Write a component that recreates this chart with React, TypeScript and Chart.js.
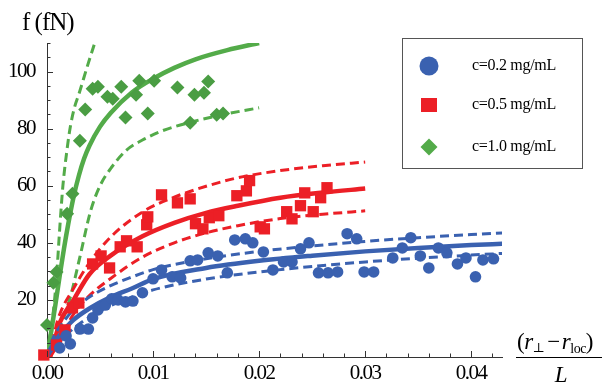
import React, { useEffect, useRef } from "react";
import { Chart, registerables } from "chart.js";
Chart.register(...registerables);

// ---- measured data (c = 0.2 mg/mL) ----
const blueX = [0.0012,0.0022,0.0018,0.0031,0.0039,0.0043,0.0048,0.0055,0.0061,0.0067,0.0074,0.0081,0.009,0.01,0.0108,0.0118,0.0126,0.0135,0.0142,0.0152,0.0161,0.017,0.0177,0.0187,0.0194,0.0204,0.0213,0.0223,0.0231,0.0239,0.0247,0.0256,0.0265,0.0274,0.0283,0.0292,0.0299,0.0308,0.0326,0.0335,0.0343,0.0352,0.036,0.0369,0.0377,0.0387,0.0395,0.0404,0.0411,0.0421];
const blueY = [3.2,4.6,7.4,9.8,9.8,13.7,16.5,18.2,20.4,20,19.3,19.6,22.5,27.4,30.5,28.1,27.7,33.7,34,36.5,35.4,29.5,41,41.4,40,36.8,30.5,33.3,33.3,37.9,40,29.5,29.5,29.8,43.2,41.4,29.8,29.8,34.7,38.2,41.8,35.4,31.2,38.2,36.5,32.6,34.7,28.1,34,34.4];

// ---- measured data (c = 0.5 mg/mL) ----
const redX = [-0.0003,0.0009,0.0017,0.0024,0.003,0.0043,0.0051,0.0059,0.0069,0.0075,0.0085,0.0094,0.0095,0.0108,0.0123,0.0135,0.014,0.0147,0.0153,0.0162,0.0179,0.0188,0.0191,0.0201,0.0205,0.0226,0.0231,0.0239,0.0243,0.0251,0.0258,0.0264];
const redY = [0.7,4.2,9.5,17.2,18.9,32.6,35.4,31.2,38.6,40.7,38.6,46.3,49.1,56.8,54,55.4,46.7,44.9,48.8,49.5,56.5,58.2,61.8,45.6,44.9,50.9,48.4,53,57.5,50.9,55.8,59.3];

// ---- measured data (c = 1.0 mg/mL) ----
const greenX = [0,0.0006,0.0009,0.0019,0.0024,0.0031,0.0036,0.0043,0.0048,0.0057,0.0062,0.007,0.0074,0.0084,0.0087,0.0095,0.0101,0.0123,0.0135,0.0139,0.0148,0.0152,0.016,0.0166];
const greenY = [11.2,26,29.8,50.2,57.2,75.8,86.7,94,94.7,91.2,90.5,94.7,83.9,91.9,96.8,85.3,96.8,94.4,82.1,91.9,92.6,96.5,84.9,85.3];

// ---- fit curves ----
const blueFitX = [0,0.0005,0.0015,0.0025,0.004,0.006,0.008,0.01,0.015,0.02,0.025,0.03,0.035,0.04,0.043];
const blueFit = [0,4,9,13,17,21,24,27.3,31.2,33.7,35.5,37,38.2,39.2,39.7];
const blueFitHi = [0,6,12,16.5,21,25,28,30.6,34.4,37,38.9,40.5,41.8,42.9,43.5];
const blueFitLo = [0,2.5,6.5,10,14,18,21,23.5,27.3,29.8,31.7,33.3,34.6,35.7,36.3];

const redFitX = [0.0003,0.0008,0.0012,0.0025,0.004,0.006,0.009,0.012,0.015,0.018,0.022,0.026,0.03];
const redFit = [0,7,12,20,29,35.5,42.3,47,50.5,53,55.8,57.6,59];
const redFitHi = [0,10,15,24,33,42,50.8,56,59.8,62.8,65.3,67,68.3];
const redFitLo = [0,3,6,15,21.5,27.5,35,40,43.5,46,48.5,50,51.2];

const greenFitX = [0,0.0004,0.0008,0.0012,0.0016,0.002,0.0025,0.003,0.0035,0.004,0.005,0.006,0.008,0.01,0.012,0.014,0.017,0.02];
const greenFit = [0,9,18.5,28.5,38,46.5,56,63.5,69.5,74,80.7,85.5,92.7,97.5,101.3,104.3,107.5,110];
const greenHiX = [0,0.0003,0.0006,0.0009,0.0012,0.0015,0.0019,0.0022,0.0026,0.003,0.0038,0.0045];
const greenFitHi = [0,8,16,28,45,60,73,80.7,87.5,92,101.8,110];
const greenLoX = [0,0.0008,0.0015,0.0022,0.0031,0.0041,0.005,0.006,0.0075,0.009,0.0107,0.0138,0.017,0.02];
const greenFitLo = [0,6,13,21,35,51,60,66,72.5,76,79,82.5,85.2,87.3];

// ---- axes / labels ----
const X_TICKS = [0, 0.01, 0.02, 0.03, 0.04];
const Y_TICKS = [20, 40, 60, 80, 100];
const LEGEND_LABELS = ["c=0.2 mg/mL", "c=0.5 mg/mL", "c=1.0 mg/mL"];
const Y_TITLE = "f (fN)";

const BLUE = "#3a61b0";
const RED = "#ec1f26";
const GREEN_PT = "#4a9d43";
const GREEN_LN = "#53ab49";
const AXIS = "#333333";
const SERIF = '"Liberation Serif", "DejaVu Serif", serif';

function pts(xs: number[], ys: number[]) {
  return xs.map((x, i) => ({ x, y: ys[i] }));
}

function lineDs(xs: number[], ys: number[], color: string, dashed: boolean) {
  return {
    data: pts(xs, ys),
    showLine: true,
    borderColor: color,
    backgroundColor: color,
    borderWidth: dashed ? 3 : 4.5,
    borderDash: dashed ? [9, 5] : [],
    pointRadius: 0,
    cubicInterpolationMode: "monotone" as const,
    fill: false,
    order: 2,
  };
}

function pointDs(xs: number[], ys: number[], color: string, style: string, r: number) {
  return {
    data: pts(xs, ys),
    showLine: false,
    pointStyle: style,
    pointRadius: r,
    pointBackgroundColor: color,
    pointBorderColor: color,
    pointBorderWidth: 0,
    clip: false as const,
    order: 1,
  };
}

const decorPlugin = {
  id: "mmaDecor",
  beforeDraw(chart: any) {
    chart.ctx.letterSpacing = "-1.5px";
  },
  afterDraw(chart: any) {
    const { ctx, chartArea: ca, scales } = chart;
    const xs = scales.x;
    const ys = scales.y;
    ctx.save();
    ctx.letterSpacing = "0px";
    ctx.setLineDash([]);
    ctx.strokeStyle = AXIS;
    ctx.lineWidth = 1;
    ctx.beginPath();
    // x ticks (inward), minor every 0.002
    for (let i = 0; i * 0.002 <= xs.max + 1e-9; i++) {
      const v = i * 0.002;
      const px = Math.round(xs.getPixelForValue(v)) + 0.5;
      const len = i % 5 === 0 ? 6 : 3.5;
      ctx.moveTo(px, ca.bottom);
      ctx.lineTo(px, ca.bottom - len);
    }
    // y ticks (inward), minor every 5
    for (let i = 1; i * 5 <= ys.max; i++) {
      const v = i * 5;
      const py = Math.round(ys.getPixelForValue(v)) + 0.5;
      const len = i % 4 === 0 ? 6 : 3.5;
      ctx.moveTo(ca.left, py);
      ctx.lineTo(ca.left + len, py);
    }
    ctx.stroke();

    // y title
    ctx.fillStyle = "#000";
    ctx.letterSpacing = "-1px";
    ctx.font = `25px ${SERIF}`;
    ctx.textBaseline = "alphabetic";
    ctx.textAlign = "left";
    ctx.fillText(Y_TITLE, 22, 30);

    // x title: (r_perp - r_loc) / L
    ctx.letterSpacing = "-0.5px";
    let x = 517;
    const base = 349;
    const put = (t: string, font: string, dy = 0) => {
      ctx.font = font;
      ctx.fillText(t, x, base + dy);
      x += ctx.measureText(t).width;
    };
    put("(", `23px ${SERIF}`);
    put("r", `italic 23px ${SERIF}`);
    put("\u22A5", `13px ${SERIF}`, 3);
    x += 3;
    put("\u2212", `23px ${SERIF}`);
    x += 2;
    put("r", `italic 23px ${SERIF}`);
    put("loc", `14px ${SERIF}`, 4);
    put(")", `23px ${SERIF}`);
    ctx.beginPath();
    ctx.lineWidth = 1.2;
    ctx.strokeStyle = "#000";
    ctx.moveTo(516, 357.5);
    ctx.lineTo(602, 357.5);
    ctx.stroke();
    ctx.font = `italic 23px ${SERIF}`;
    ctx.textAlign = "center";
    ctx.fillText("L", 561, 382);

    // legend
    ctx.textAlign = "left";
    ctx.lineWidth = 1;
    ctx.strokeStyle = "#555";
    ctx.strokeRect(402.5, 38.5, 180, 130);
    const cx = 429;
    const rows = [66, 105, 147];
    ctx.fillStyle = BLUE;
    ctx.beginPath();
    ctx.arc(cx, rows[0], 9.5, 0, Math.PI * 2);
    ctx.fill();
    ctx.fillStyle = RED;
    ctx.fillRect(cx - 8, rows[1] - 7, 16, 14);
    ctx.fillStyle = GREEN_LN;
    ctx.beginPath();
    ctx.moveTo(cx - 8.5, rows[2]);
    ctx.lineTo(cx, rows[2] - 8.5);
    ctx.lineTo(cx + 8.5, rows[2]);
    ctx.lineTo(cx, rows[2] + 8.5);
    ctx.closePath();
    ctx.fill();
    ctx.fillStyle = "#000";
    ctx.font = `16px ${SERIF}`;
    ctx.letterSpacing = "-0.3px";
    LEGEND_LABELS.forEach((t, i) => {
      ctx.fillText(t, 472, rows[i] + 4);
    });
    ctx.restore();
  },
};

export default function App() {
  const ref = useRef<HTMLCanvasElement | null>(null);
  useEffect(() => {
    document.body.style.margin = "0";
    if (!ref.current) return;
    const chart = new Chart(ref.current, {
      type: "scatter",
      data: {
        datasets: [
          pointDs(blueX, blueY, BLUE, "circle", 5.8),
          pointDs(redX, redY, RED, "rect", 8),
          pointDs(greenX, greenY, GREEN_PT, "rectRot", 7),
          lineDs(blueFitX, blueFit, BLUE, false),
          lineDs(blueFitX, blueFitHi, BLUE, true),
          lineDs(blueFitX, blueFitLo, BLUE, true),
          lineDs(redFitX, redFit, RED, false),
          lineDs(redFitX, redFitHi, RED, true),
          lineDs(redFitX, redFitLo, RED, true),
          lineDs(greenFitX, greenFit, GREEN_LN, false),
          lineDs(greenHiX, greenFitHi, GREEN_LN, true),
          lineDs(greenLoX, greenFitLo, GREEN_LN, true),
        ] as any,
      },
      options: {
        animation: false,
        responsive: false,
        layout: { padding: { top: 43, right: 101, left: 0, bottom: 0 } },
        plugins: { legend: { display: false }, tooltip: { enabled: false } },
        scales: {
          x: {
            type: "linear",
            min: 0,
            max: 0.0429,
            grid: { display: false, drawTicks: false },
            border: { display: true, color: AXIS, width: 1 },
            afterBuildTicks: (s: any) => {
              s.ticks = X_TICKS.map((v) => ({ value: v }));
            },
            ticks: {
              padding: 4,
              color: "#000",
              font: { family: SERIF, size: 21 },
              maxRotation: 0,
              autoSkip: false,
              callback: (v: any) => Number(v).toFixed(2),
            },
            afterFit: (s: any) => {
              s.height = 28;
            },
          },
          y: {
            type: "linear",
            min: 0,
            max: 110,
            grid: { display: false, drawTicks: false },
            border: { display: true, color: AXIS, width: 1 },
            afterBuildTicks: (s: any) => {
              s.ticks = Y_TICKS.map((v) => ({ value: v }));
            },
            ticks: {
              padding: 12,
              color: "#000",
              font: { family: SERIF, size: 21 },
              autoSkip: false,
              callback: (v: any) => String(v),
            },
            afterFit: (s: any) => {
              s.width = 47;
            },
          },
        },
      } as any,
      plugins: [decorPlugin],
    });
    return () => chart.destroy();
  }, []);
  return (
    <div style={{ position: "absolute", left: 0, top: 0, width: 603, height: 385 }}>
      <canvas ref={ref} width={603} height={385} style={{ display: "block" }} />
    </div>
  );
}
